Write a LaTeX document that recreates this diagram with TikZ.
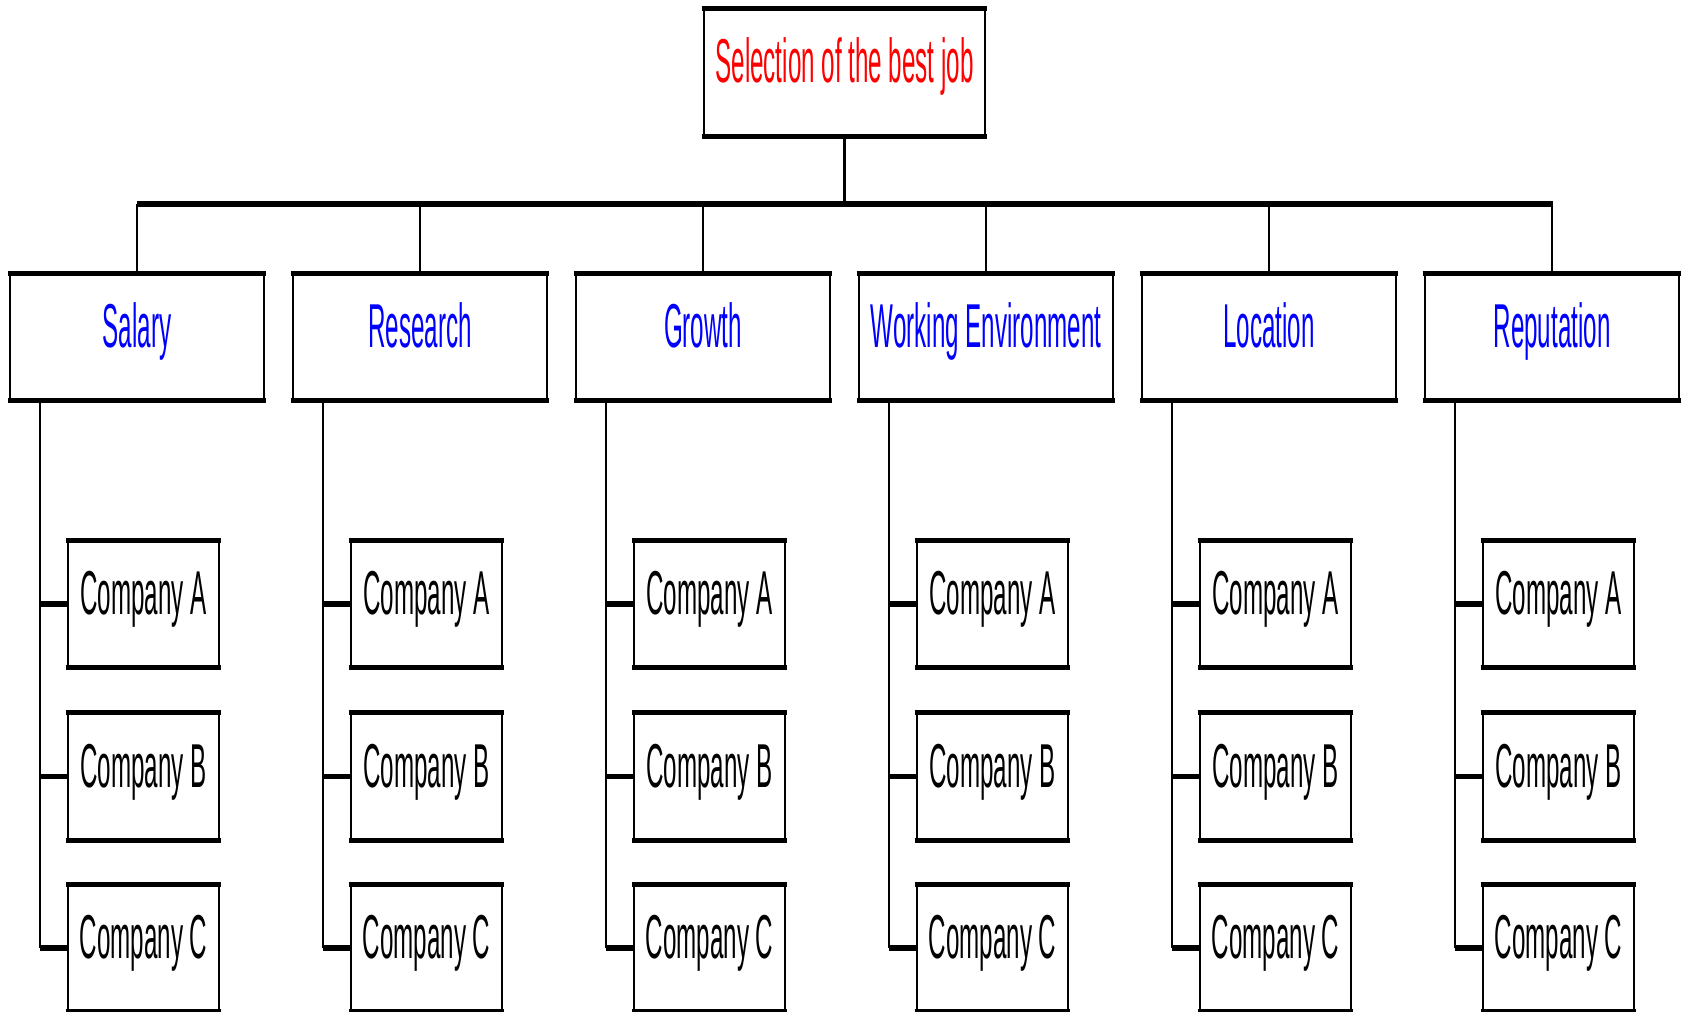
\documentclass[tikz,border=0pt]{standalone}
\usepackage{fontspec}
\newfontfamily\condfont[FakeStretch=0.39]{Liberation Sans}
\begin{document}
\begin{tikzpicture}[x=0.5pt,y=-0.5pt,
  box/.style={draw=black, line width=1.2pt, inner sep=0pt,
    text height=36.5pt, text depth=26pt,
    font=\condfont\fontsize{31}{31}\selectfont},
  topbox/.style={box, minimum width=140.5pt, text=red},
  catbox/.style={box, minimum width=127pt, text=blue},
  cobox/.style={box, minimum width=75.5pt, text=black},
  hline/.style={line width=2.6pt},
  vline/.style={line width=1.2pt},
  edge/.style={line width=2.6pt, shorten <=-0.6pt, shorten >=-0.6pt}]
\useasboundingbox (0,0) rectangle (1684,1011);

% goal
\node[topbox] (goal) at (844.5,72.5) {Selection of the best job};
\draw[edge] (goal.north west) -- (goal.north east);
\draw[edge] (goal.south west) -- (goal.south east);

% bus
\coordinate (busL) at (137,204);
\coordinate (busR) at (1553,204);
\draw[vline] (goal.south) -- (goal.south |- busL);
\draw[hline] (busL) -- (busR);

% criteria and alternatives
\foreach \i/\n/\lab in {0/sal/Salary,1/res/Research,2/gro/Growth,
    3/env/Working Environment,4/loc/Location,5/rep/Reputation}{
  \node[catbox] (\n) at ({137+283*\i},337) {\lab};
  \draw[edge] (\n.north west) -- (\n.north east);
  \draw[edge] (\n.south west) -- (\n.south east);
  \draw[vline] (\n.north) -- (\n.north |- busL);
  \foreach \c/\y in {A/604,B/776.5,C/948}{
    \node[cobox] (\n-\c) at ({143.5+283*\i},\y) {Company \c};
    \draw[edge] (\n-\c.north west) -- (\n-\c.north east);
    \draw[edge] (\n-\c.south west) -- (\n-\c.south east);
    \draw[hline] ([xshift=15.5pt]\n.south west |- \n-\c.west) -- (\n-\c.west);
  }
  \draw[vline] ([xshift=15.5pt]\n.south west) -- ([xshift=15.5pt]\n.south west |- \n-C.west);
}
\end{tikzpicture}
\end{document}
